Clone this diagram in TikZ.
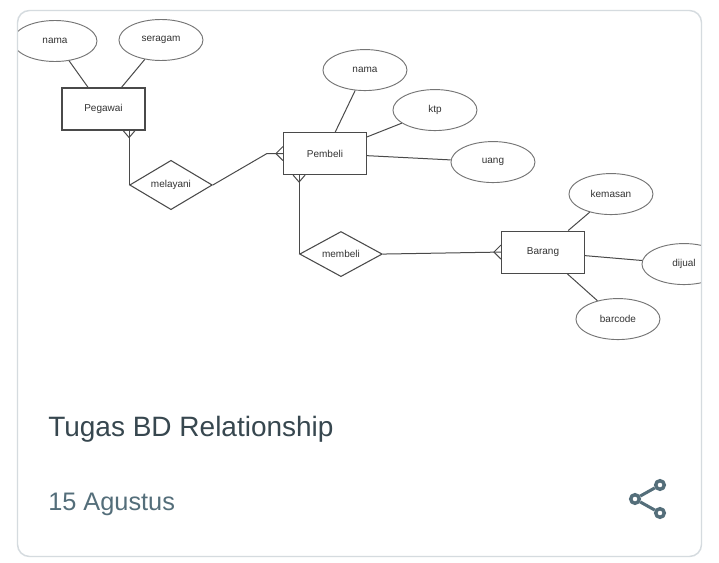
\documentclass[tikz,border=0pt]{standalone}
\usepackage{fontspec}
\setmainfont{Liberation Sans}
\usepackage{tikz}
\usetikzlibrary{positioning,shapes.geometric}
\definecolor{framegrey}{HTML}{D5DBDF}
\definecolor{linegrey}{HTML}{4A4A4A}
\definecolor{ovalgrey}{HTML}{757575}
\definecolor{labelgrey}{HTML}{333333}
\definecolor{titleslate}{HTML}{37474F}
\definecolor{dateslate}{HTML}{546E7A}
\tikzstyle{entity}=[rectangle, draw=linegrey, line width=0.8pt, minimum width=62.25pt, minimum height=31.5pt,
        inner sep=0pt, text=labelgrey, font=\fontsize{7.5}{9}\selectfont]
\tikzstyle{attribute}=[ellipse, draw=ovalgrey, line width=0.7pt, minimum width=63pt, minimum height=30.75pt,
        inner sep=0pt, text=labelgrey, font=\fontsize{7.5}{9}\selectfont]
\tikzstyle{relation}=[diamond, draw=linegrey, line width=0.8pt, minimum width=62pt, minimum height=31pt,
        inner sep=0pt, text=labelgrey, font=\fontsize{7.5}{9}\selectfont]
\tikzstyle{link}=[draw=linegrey, line width=0.75pt]
\tikzstyle{sharering}=[circle, draw=dateslate, fill=white, line width=2.6pt, minimum size=6.4pt, inner sep=0pt]
\tikzstyle{shareline}=[draw=dateslate, line width=2.3pt]
\begin{document}
\begin{tikzpicture}[x=0.75pt, y=-0.75pt, on grid]
        \useasboundingbox (0,0) rectangle (719,563);
        \fill[white] (0,0) rectangle (719,563);
        \begin{scope}
        \clip[rounded corners=9pt] (17.5,10.5) rectangle (701.5,556.5);
        \node (pegawai) [entity] at (103.5,109) {Pegawai};
        \node (nama1) [attribute, above left=51pt and 36.4pt of pegawai] {nama};
        \node (seragam) [attribute, above right=51.75pt and 43.1pt of pegawai] {seragam};
        \node (melayani) [relation, below right=57pt and 50.6pt of pegawai] {melayani};
        \node (pembeli) [entity, below right=33.4pt and 166.1pt of pegawai] {Pembeli};
        \node (nama2) [attribute, above right=62.6pt and 30pt of pembeli] {nama};
        \node (ktp) [attribute, above right=32.6pt and 82.5pt of pembeli] {ktp};
        \node (uang) [attribute, below right=6.4pt and 126pt of pembeli] {uang};
        \node (membeli) [relation, below right=75.4pt and 12pt of pembeli] {membeli};
        \node (barang) [entity, above right=1.5pt and 151.5pt of membeli] {Barang};
        \node (kemasan) [attribute, above right=43.5pt and 51pt of barang] {kemasan};
        \node (dijual) [attribute, below right=9pt and 105.75pt of barang] {dijual};
        \node (barcode) [attribute, below right=50.25pt and 56.25pt of barang] {barcode};

        \draw [link] (nama1) -- (pegawai);
        \draw [link] (seragam) -- (pegawai);
        \draw [link] (nama2) -- (pembeli);
        \draw [link] (ktp) -- (pembeli);
        \draw [link] (uang) -- (pembeli);
        \draw [link] (kemasan) -- (barang);
        \draw [link] (dijual) -- (barang);
        \draw [link] (barcode) -- (barang);

        \coordinate (pegfoot) at (melayani.west |- pegawai.south);
        \draw [link] (melayani.west) -- (pegfoot);
        \draw [link] ([shift={(-6,0)}]pegfoot) -- ([shift={(0,7)}]pegfoot) -- ([shift={(6,0)}]pegfoot);

        \coordinate (pemleft) at ([shift={(-16,0)}]pembeli.west);
        \draw [link] (melayani.east) -- (pemleft) -- (pembeli.west);
        \draw [link] ([shift={(0,-7)}]pembeli.west) -- ([shift={(-7,0)}]pembeli.west) -- ([shift={(0,7)}]pembeli.west);

        \coordinate (pemfoot) at (membeli.west |- pembeli.south);
        \draw [link] (membeli.west) -- (pemfoot);
        \draw [link] ([shift={(-6,0)}]pemfoot) -- ([shift={(0,7)}]pemfoot) -- ([shift={(6,0)}]pemfoot);

        \draw [link] (membeli.east) -- (barang.west);
        \draw [link] ([shift={(0,-7)}]barang.west) -- ([shift={(-7,0)}]barang.west) -- ([shift={(0,7)}]barang.west);
        \end{scope}
        \draw[framegrey, line width=1.1pt, rounded corners=9pt] (17.5,10.5) rectangle (701.5,556.5);

        \node (title) [anchor=base west, inner sep=0pt, text=titleslate, font=\fontsize{21}{25}\selectfont]
          at (48,437) {Tugas BD Relationship};
        \node (date) [anchor=base west, inner sep=0pt, text=dateslate, font=\fontsize{19}{23}\selectfont]
          at (48,511) {15 Agustus};

        \node (sharetop) [sharering] at (660,485) {};
        \node (sharemid) [sharering] at (635,499) {};
        \node (sharebot) [sharering] at (660,513) {};
        \draw [shareline] (sharetop) -- (sharemid) -- (sharebot);
      \end{tikzpicture}
\end{document}
